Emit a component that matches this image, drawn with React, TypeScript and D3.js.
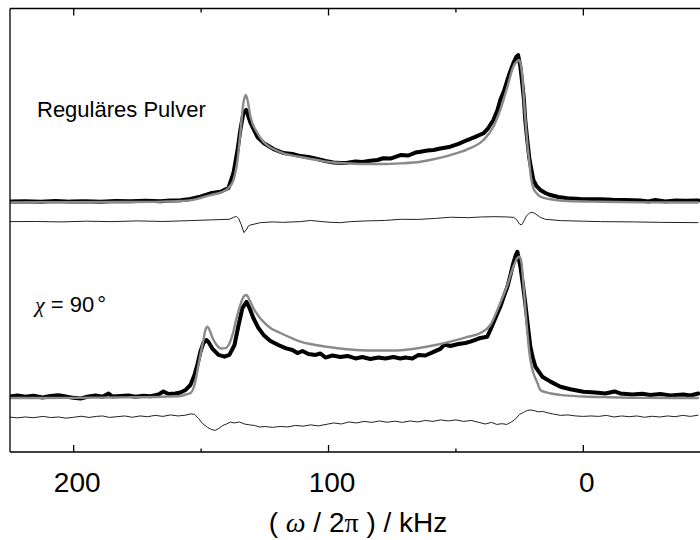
import React from 'react';
import * as d3 from 'd3';

type P = [number, number];

// x axis (kHz, reversed)
const xDomain: [number, number] = [225, -45];
const majorTicks = [200, 100, 0];
const minorTicks = [150, 50];
const xTitle = ['( ', 'ω', ' / 2', 'π', ' ) / kHz'];
const labelUpper = 'Reguläres Pulver';
const labelLower = ['χ', ' = 90', '°'];

// Upper spectrum: experimental (kHz, intensity)
const upperExp: P[] = [
  [225.0, 0.7], [218.9, 0.9], [213.0, 0.5], [207.1, 1.0], [201.3, 0.6], [195.4, 0.9], [189.5, 0.5],
  [183.6, 1.0], [177.7, 0.8], [171.8, 1.2], [166.0, 0.9], [162.0, 1.4], [158.1, 1.6], [154.2, 2.4],
  [150.3, 4.0], [146.3, 6.3], [142.4, 7.4], [139.3, 9.9], [137.3, 20.2], [135.7, 36], [134.6, 49.7],
  [133.4, 61.3], [132.3, 63.4], [131.4, 58.6], [130.6, 54.5], [127.9, 44.9], [125.5, 40.8],
  [121.6, 36.6], [117.7, 33.9], [114.2, 33.2], [111.0, 31.8], [107.9, 31.2], [104.4, 29.8],
  [101.2, 28.4], [98.1, 27.4], [95.3, 27.1], [92.6, 27.3], [89.4, 28.1], [86.7, 27.7], [83.6, 28.6],
  [80.8, 29.1], [78.5, 30.3], [75.7, 30.1], [71.8, 32.5], [68.7, 32.2], [65.9, 34.2], [63.9, 34.8],
  [61.2, 35.6], [58.8, 36.0], [56.1, 37.0], [52.2, 38.2], [49.0, 40.1], [45.5, 42.8], [42.4, 44.9],
  [39.2, 47.4], [37.3, 51], [35.3, 56.5], [33.7, 63.4], [32.6, 70.2], [31.0, 77.1], [29.8, 83.9],
  [28.6, 90.1], [27.5, 95.3], [26.3, 99.7], [25.6, 101.0], [24.7, 93.0], [23.9, 80.5], [23.3, 70.2],
  [22.8, 56.5], [22.0, 42.8], [21.2, 30.5], [20.6, 24.5], [19.6, 15.4], [18.4, 11.3], [16.9, 8.6],
  [14.9, 6.5], [12.9, 5.1], [9.8, 3.8], [6.3, 2.9], [1.2, 2.4], [-2.7, 2.3], [-6.7, 2.2], [-11.4, 1.8],
  [-16.5, 1.7], [-22.4, 1.4], [-25.5, 0.7], [-28.2, 1.7], [-32.2, 0.7], [-36.1, 1.4], [-40.0, 1.2],
  [-45.1, 1.4],
];

// Upper spectrum: fit
const upperFit: P[] = [
  [225, 0.1], [200, 0.2], [180, 0.3], [165, 0.6], [158, 1.0], [154, 1.6], [150.3, 3.1], [146.3, 5.1],
  [142.4, 6.8], [139.3, 9.9], [137.3, 15.4], [135.7, 29], [134.6, 47.6], [133.4, 68.2], [132.5, 73.6],
  [131.8, 70.2], [130.6, 58.6], [127.9, 47.6], [125.5, 41.4], [121.6, 36.6], [117.7, 33.6], [111.0, 31.2],
  [104.4, 29.1], [98.1, 27.4], [92.6, 26.8], [87, 26.4], [83.6, 26.4], [78, 26.4], [71.8, 26.8],
  [63.9, 27.9], [58.8, 29.6], [52.2, 32.5], [45.5, 36.4], [39.2, 42.8], [35.3, 51.9], [32.6, 63.4],
  [29.8, 79.3], [27.5, 93.0], [25.9, 96.9], [25.3, 97.6], [24.7, 95.5], [23.9, 85.3], [23.3, 70.2],
  [22.8, 57.9], [22.0, 40.8], [21.2, 27.7], [20.6, 17.7], [19.6, 9.7], [18.4, 6.5], [16.9, 4.0],
  [12.9, 2.2], [6.3, 1.0], [-6.7, 0.5], [-25, 0.1], [-45, 0],
];

// Upper spectrum: difference
const upperDiff: P[] = [
  [225, 0.2], [215, 0.3], [205, 0], [195, 0.5], [185, 0.2], [175, 0.7], [165, 0.3], [158, 0.7],
  [154, 0.9], [146, 1.4], [139, 1.8], [137.3, 3.1], [136.1, 3.8], [135.3, 2.4], [134.2, -2.1],
  [133.2, -7.3], [132.3, -5.5], [131.4, -2.7], [130.6, -2.1], [126.7, -0.5], [122, 0], [118, -0.3],
  [111, 0.2], [107.1, 1.0], [103, 0.3], [99, -0.3], [95.3, -0.5], [91.4, 0.2], [85, 0.7], [78, 1.0],
  [71.8, 1.8], [65, 1.7], [58, 2.4], [52.2, 3.2], [45, 2.9], [40, 3.4], [35, 3.6], [30, 3.4],
  [27.3, 3.1], [26.1, 1.4], [25.1, -1.4], [24.3, -2.1], [23.5, 0], [22.3, 4.1], [21.1, 6.2],
  [20.1, 6.6], [19, 5.8], [16.9, 3.1], [14.9, 1.8], [9, 0.9], [0, 0.5], [-6.7, 0.2], [-20, 0],
  [-30, -0.3], [-45, -0.5],
];

// Lower spectrum (chi = 90 deg): experimental
const lowerExp: P[] = [
  [225.0, 1.0], [222.2, 1.7], [218.9, 0.8], [215.8, 1.5], [212.2, 0.3], [209.1, 1.4], [206.0, 1.9],
  [203.2, 1.0], [200.1, 0.1], [197.3, -0.3], [194.2, 1.0], [191.4, 1.7], [188.7, 0.8], [186.3, 3.1],
  [184.8, 1.0], [181.6, 1.4], [178.5, 1.7], [175.8, 0.8], [172.6, 1.5], [169.9, 1.2], [166.7, 2.4],
  [164.8, 4.5], [162.8, 2.7], [160.1, 3.1], [158.1, 3.8], [156.1, 5.5], [154.2, 8.9], [152.6, 15.8],
  [151.4, 23.3], [150.3, 31.5], [149.1, 37.7], [147.9, 39.7], [147.1, 38.4], [145.5, 33.6],
  [143.2, 29.5], [140.8, 28.3], [138.9, 29.5], [136.9, 36.3], [135.3, 50.0], [133.8, 61.6],
  [132.2, 65.8], [131.0, 61.6], [129.5, 54.8], [127.5, 47.9], [125.5, 43.2], [122.8, 39.0],
  [119.7, 36.3], [116.9, 34.2], [114.2, 32.9], [112.2, 30.8], [110.2, 32.2], [107.9, 30.1],
  [105.1, 29.5], [103.2, 30.5], [101.2, 27.7], [98.5, 29.1], [95.3, 28.1], [92.6, 28.8], [89.4, 27.1],
  [86.7, 28.1], [83.6, 26.7], [80.4, 27.7], [77.7, 27.1], [74.5, 28.1], [71.8, 27.1], [69.8, 27.7],
  [67.1, 27.1], [64.7, 29.5], [62.0, 29.1], [59.2, 31.2], [56.1, 33.6], [54.5, 36.6], [52.2, 35.6],
  [49.0, 37.0], [46.3, 37.7], [44.3, 38.6], [41.6, 40.4], [40.4, 41.1], [37.7, 42.0], [36.5, 46.6],
  [34.5, 54.8], [32.6, 62.5], [31.0, 70.5], [29.8, 76.2], [28.6, 84.2], [27.5, 92.3], [26.5, 97.9],
  [25.9, 100.2], [24.7, 89.9], [23.7, 77.4], [22.8, 65.1], [21.8, 50], [20.8, 35.1], [19.8, 27.4],
  [18.8, 21.4], [16.1, 14.6], [12.9, 11.2], [9.0, 7.7], [5.1, 6.0], [0, 4.3], [-4.7, 3.8], [-8.6, 3.1],
  [-12.2, 4.5], [-14.5, 3.1], [-19.2, 2.4], [-23.1, 2.9], [-26.3, 2.1], [-30.2, 2.7], [-34.1, 1.8],
  [-39.2, 2.4], [-42.0, 1.7], [-45.1, 3.1],
];

// Lower spectrum: fit
const lowerFit: P[] = [
  [225, 0], [200, 0.1], [180, 0.4], [165, 0.9], [158.1, 1.4], [156.1, 2.4], [154.2, 3.4], [152.6, 8.9],
  [151.4, 19.2], [150.3, 29.5], [149.1, 39.7], [148.3, 46.6], [147.5, 48.8], [146.7, 46.6],
  [145.5, 41.1], [143.9, 36.3], [142, 33.9], [140.4, 34.2], [139.2, 36.3], [137.7, 43.2], [136.1, 54.8],
  [134.6, 63.7], [133.4, 69.2], [132.2, 70.5], [131.0, 67.1], [129.5, 61.6], [127.5, 56.2],
  [125.5, 52.1], [122.8, 47.9], [118.9, 44.5], [114.2, 40.8], [111.0, 38.6], [105.1, 36.3],
  [98.5, 34.6], [91.4, 33.2], [83.6, 32.5], [75, 32.5], [67.1, 33.6], [60, 35.6], [52.2, 38.6],
  [45.5, 41.8], [40.4, 44.5], [36.5, 50], [32.6, 65.1], [29.8, 77.4], [27.5, 89.7], [25.9, 95.9],
  [25.1, 96.8], [24.3, 93.2], [23.5, 77.4], [22.4, 53.4], [21.2, 31.5], [20.4, 22.6], [19.6, 17.1],
  [18.0, 10.3], [16.9, 5.5], [14.5, 3.8], [9.0, 2.1], [0, 1.0], [-10, 0.5], [-25, 0.1], [-45, 0],
];

// Lower spectrum: difference
const lowerDiff: P[] = [
  [225, 0.2], [222, -0.3], [219, 0.3], [216, -0.2], [212, 0.7], [209, -0.1], [206, 0.3], [203, -0.5],
  [200, 0.1], [197, 0.8], [194, 0], [191, 0.7], [188.7, 1.0], [186, 0], [183, 0.5], [180, 1.0],
  [177, 0.1], [174, 1.0], [171, 0.5], [168, 1.4], [165, 0.7], [162, 1.7], [159, 1.0], [156, 1.6],
  [154, 2.4], [152.6, 2.1], [151, -0.7], [149.5, -4.1], [147.5, -6.8], [146, -8.2], [144.5, -8.9],
  [143, -7.5], [141.5, -5.5], [140, -4.5], [138.5, -3.2], [137, -3.8], [135, -3.1], [133, -4.5],
  [131, -5.1], [129, -5.5], [127, -6.6], [125, -6.2], [122, -6.8], [119, -6.2], [116, -6.5],
  [113, -5.5], [110, -6.0], [107, -5.1], [104, -5.8], [101, -4.8], [98, -3.8], [95, -4.5], [92, -3.1],
  [89, -3.8], [86, -2.7], [83, -3.4], [80, -2.4], [77, -3.3], [74, -2.6], [71, -3.4], [68, -2.4],
  [65, -3.1], [62, -2.1], [59, -2.7], [56, -1.7], [53, -2.4], [50, -1.7], [47, -2.7], [44, -2.1],
  [41, -3.4], [38.5, -4.5], [36, -3.4], [34, -4.8], [32, -4.3], [30, -4.8], [28.5, -3.4], [27, -1.7],
  [26, 0.2], [25, 2.1], [23.5, 3.4], [22, 4.8], [20.5, 5.1], [19, 4.5], [17.5, 3.8], [16, 4.1],
  [14, 3.1], [12, 2.4], [9, 1.4], [6, 1.7], [3, 1.0], [0, 0.7], [-3, 1.0], [-6, 0.7], [-9, 1.4],
  [-12, 0.3], [-15, 1.0], [-18, 0.5], [-21, 1.0], [-24, 0.1], [-27, 0.8], [-30, 0.3], [-33, 1.0],
  [-36, 0.5], [-39, 1.4], [-42, 0.7], [-45, 1.5],
];

const W = 700;
const H = 540;
const L = 10, R = 698, T = 8.5, B = 452;
const DIFF_SHIFT = -13.3;

export default function App() {
  const x = d3.scaleLinear().domain(xDomain).range([L, R]);
  const yUp = d3.scaleLinear().domain([0, 100]).range([202.5, 56.5]);
  const yLo = d3.scaleLinear().domain([0, 100]).range([398, 252]);

  const mk = (ys: d3.ScaleLinear<number, number>, shift = 0, smooth = false) => {
    const g = d3.line<P>().x((d) => x(d[0])).y((d) => ys(d[1] + shift));
    if (smooth) g.curve(d3.curveMonotoneX);
    return g;
  };

  const sans = 'Liberation Sans, Arial, Helvetica, sans-serif';
  const serif = 'Liberation Serif, Times New Roman, serif';

  return (
    <svg width={W} height={H} style={{ position: 'absolute', left: 0, top: 0, background: '#fff' }}
      xmlns="http://www.w3.org/2000/svg">
      <defs>
        <clipPath id="plot">
          <rect x={L} y={T} width={W - L} height={B - T} />
        </clipPath>
      </defs>
      <rect x={0} y={0} width={W} height={H} fill="#fff" />
      <g clipPath="url(#plot)" fill="none" strokeLinejoin="round" strokeLinecap="round">
        <path d={mk(yUp, DIFF_SHIFT)(upperDiff) || ''} stroke="#222" strokeWidth={1} />
        <path d={mk(yLo, DIFF_SHIFT)(lowerDiff) || ''} stroke="#222" strokeWidth={1} />
        <path d={mk(yUp)(upperExp) || ''} stroke="#000" strokeWidth={4} />
        <path d={mk(yLo)(lowerExp) || ''} stroke="#000" strokeWidth={4} />
        <path d={mk(yUp, 0, true)(upperFit) || ''} stroke="#8a8a8a" strokeWidth={2.4} />
        <path d={mk(yLo, 0, true)(lowerFit) || ''} stroke="#8a8a8a" strokeWidth={2.4} />
      </g>
      {/* frame */}
      <g stroke="#000" strokeWidth={1.3} fill="none">
        <line x1={L} y1={T} x2={W} y2={T} />
        <line x1={L} y1={B} x2={W} y2={B} />
        <line x1={L} y1={T} x2={L} y2={B} />
        {majorTicks.map((t) => (
          <g key={'M' + t}>
            <line x1={x(t)} x2={x(t)} y1={B} y2={B - 7} />
            <line x1={x(t)} x2={x(t)} y1={T} y2={T + 7} />
          </g>
        ))}
        {minorTicks.map((t) => (
          <g key={'m' + t}>
            <line x1={x(t)} x2={x(t)} y1={B} y2={B - 3.5} />
            <line x1={x(t)} x2={x(t)} y1={T} y2={T + 4} />
          </g>
        ))}
      </g>
      {majorTicks.map((t) => (
        <text key={'l' + t} x={x(t) + 3.5} y={492} textAnchor="middle" fontFamily={sans} fontSize={28} fill="#000">
          {t}
        </text>
      ))}
      <text x={358} y={532} textAnchor="middle" fontFamily={sans} fontSize={28} fill="#000">
        <tspan>{xTitle[0]}</tspan>
        <tspan fontFamily={serif} fontStyle="italic">{xTitle[1]}</tspan>
        <tspan>{xTitle[2]}</tspan>
        <tspan fontFamily={serif}>{xTitle[3]}</tspan>
        <tspan>{xTitle[4]}</tspan>
      </text>
      <text x={37} y={117} fontFamily={sans} fontSize={22} fill="#000">{labelUpper}</text>
      <text x={35} y={311.5} fontFamily={sans} fontSize={22} fill="#000">
        <tspan fontFamily={serif} fontStyle="italic">{labelLower[0]}</tspan>
        <tspan>{labelLower[1]}</tspan>
        <tspan dx={3}>{labelLower[2]}</tspan>
      </text>
    </svg>
  );
}
